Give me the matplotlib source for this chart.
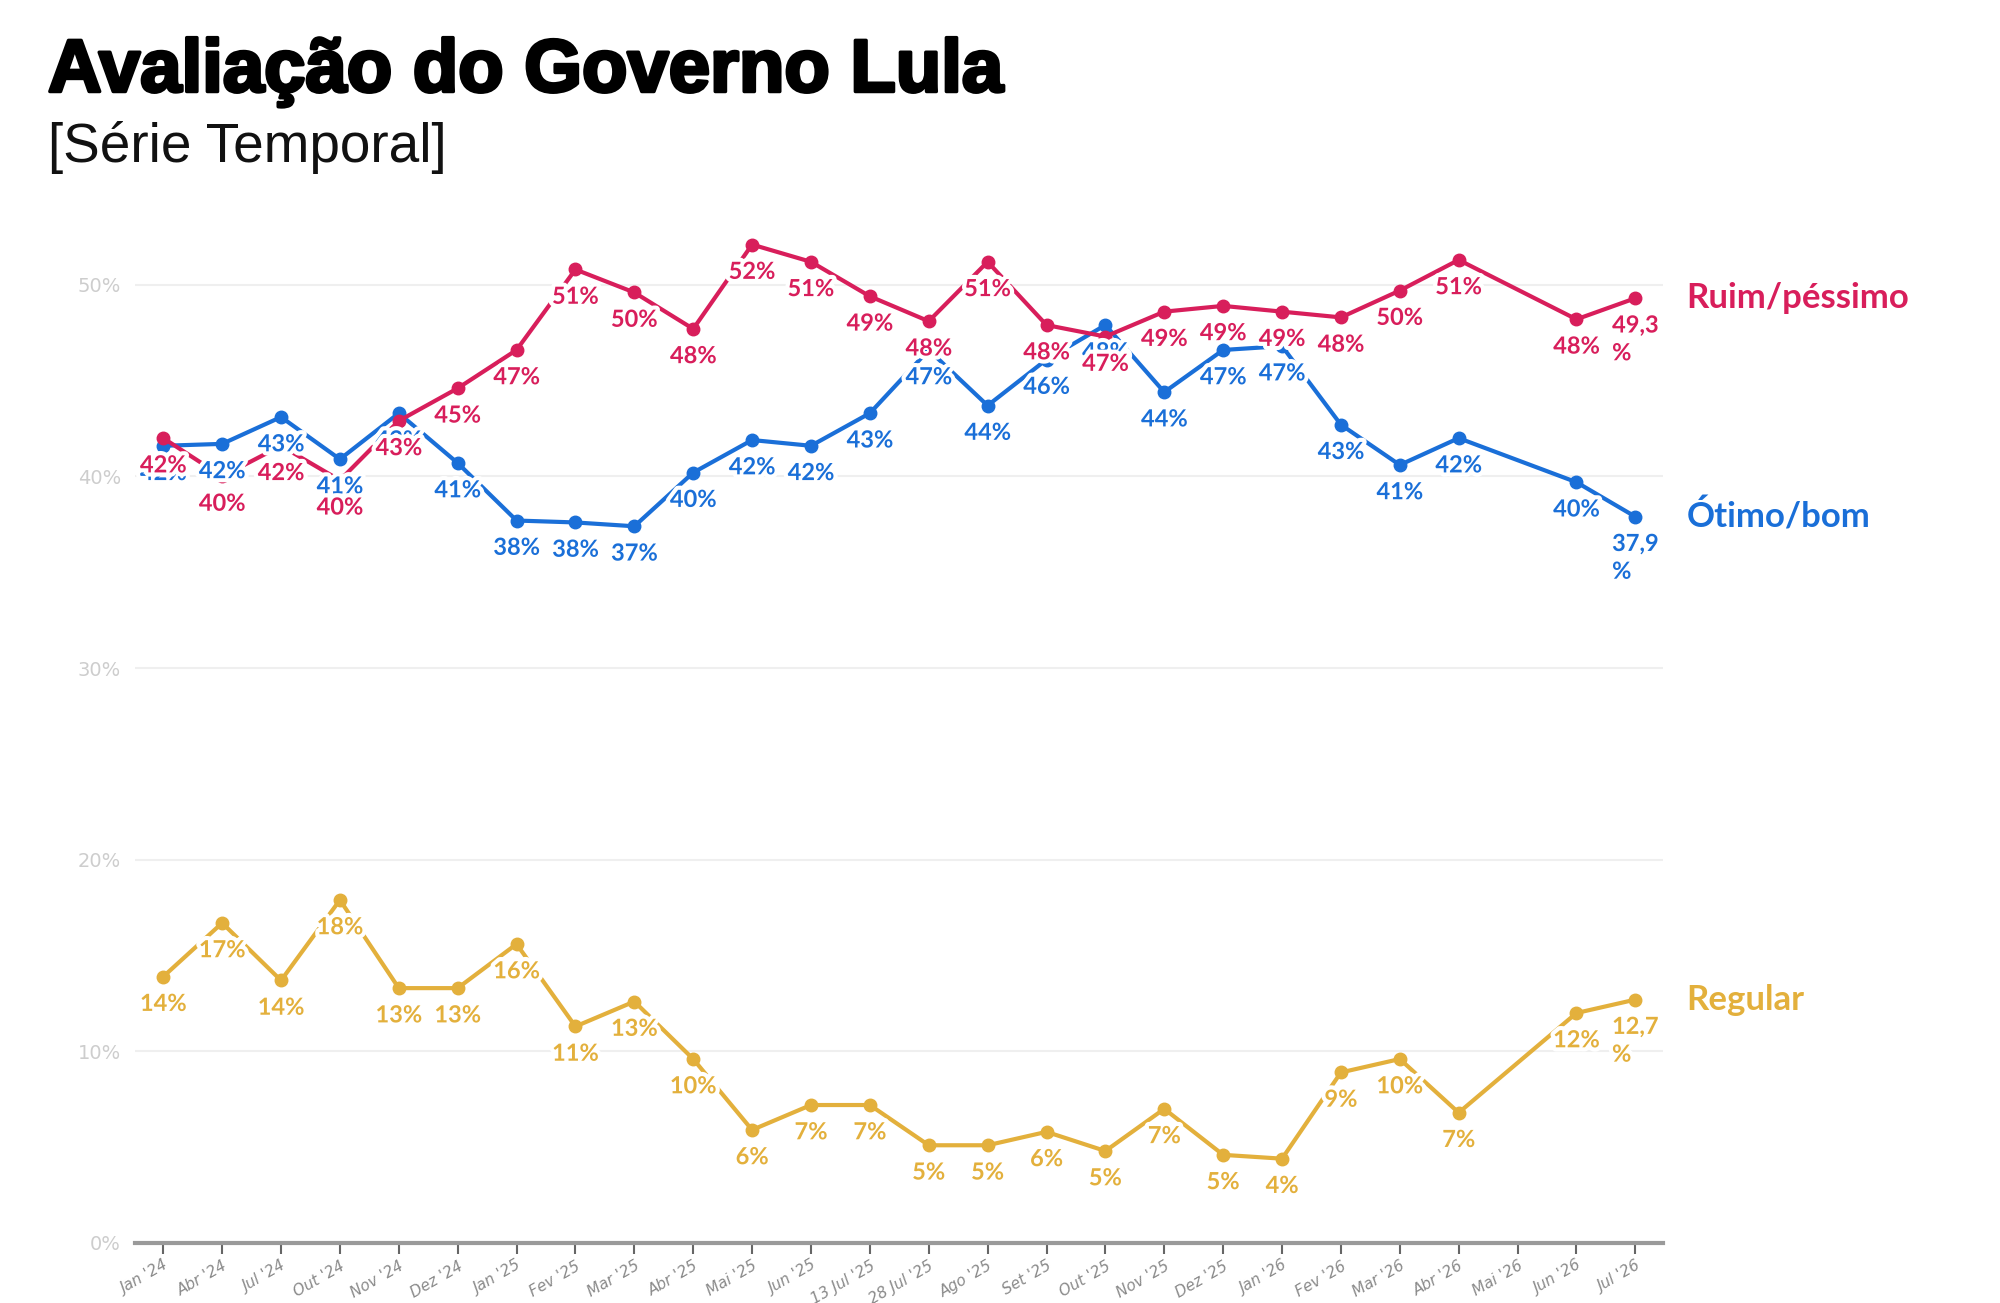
import numpy as np
import matplotlib
matplotlib.use("Agg")
import matplotlib.pyplot as plt
import matplotlib.patheffects as pe

categories = ["Jan '24", "Abr '24", "Jul '24", "Out '24", "Nov '24", "Dez '24",
              "Jan '25", "Fev '25", "Mar '25", "Abr '25", "Mai '25", "Jun '25",
              "13 Jul '25", "28 Jul '25", "Ago '25", "Set '25", "Out '25", "Nov '25",
              "Dez '25", "Jan '26", "Fev '26", "Mar '26", "Abr '26", "Mai '26",
              "Jun '26", "Jul '26"]

ruim_pessimo = [42.0, 40.0, 41.6, 39.8, 42.9, 44.6, 46.6, 50.8, 49.6, 47.7, 52.1, 51.2,
                49.4, 48.1, 51.2, 47.9, 47.3, 48.6, 48.9, 48.6, 48.3, 49.7, 51.3, np.nan,
                48.2, 49.3]
otimo_bom = [41.6, 41.7, 43.1, 40.9, 43.3, 40.7, 37.7, 37.6, 37.4, 40.2, 41.9, 41.6,
             43.3, 46.6, 43.7, 46.1, 47.9, 44.4, 46.6, 46.8, 42.7, 40.6, 42.0, np.nan,
             39.7, 37.9]
regular = [13.9, 16.7, 13.7, 17.9, 13.3, 13.3, 15.6, 11.3, 12.6, 9.6, 5.9, 7.2,
           7.2, 5.1, 5.1, 5.8, 4.8, 7.0, 4.6, 4.4, 8.9, 9.6, 6.8, np.nan,
           12.0, 12.7]

series_names = ["Ruim/péssimo", "Ótimo/bom", "Regular"]
title = "Avaliação do Governo Lula"
subtitle = "[Série Temporal]"
yticks = [0, 10, 20, 30, 40, 50]

colors = {"Ruim/péssimo": "#d81e5b", "Ótimo/bom": "#1a6fd8", "Regular": "#e3b03c"}

W, H = 2000, 1303
fig = plt.figure(figsize=(W / 100, H / 100), dpi=100)
fig.patch.set_facecolor("white")

ax_left, ax_right = 135, 1663
y0_px, ytop_px = 1243, 189
ax = fig.add_axes([ax_left / W, (H - y0_px) / H, (ax_right - ax_left) / W, (y0_px - ytop_px) / H])
ax.set_xlim(-0.48, len(categories) - 1 + 0.47)
ax.set_ylim(0, 55)

for s in ["top", "right", "left"]:
    ax.spines[s].set_visible(False)
ax.spines["bottom"].set_color("#9a9a9a")
ax.spines["bottom"].set_linewidth(3)

ax.set_yticks(yticks)
ax.set_yticklabels([f"{v}%" for v in yticks], color="#cdcdcd", fontsize=14,
                   fontfamily="DejaVu Sans")
ax.tick_params(axis="y", length=0, pad=10)
for v in yticks[1:]:
    ax.axhline(v, color="#efefef", lw=1.5, zorder=0)

x = np.arange(len(categories))
ax.set_xticks(x)
ax.set_xticklabels(categories, rotation=30, ha="right", rotation_mode="anchor",
                   fontsize=11, color="#8a8a8a", fontstyle="italic")
ax.tick_params(axis="x", length=8, width=1.5, color="#666666", pad=3)

# draw order: regular, ótimo/bom, ruim/péssimo (ruim on top)
order = [("Regular", regular), ("Ótimo/bom", otimo_bom), ("Ruim/péssimo", ruim_pessimo)]
for k, (name, vals) in enumerate(order):
    v = np.array(vals, dtype=float)
    m = ~np.isnan(v)
    ax.plot(x[m], v[m], color=colors[name], lw=3, marker="o", ms=9, zorder=3 + k * 0.1,
            clip_on=False)

halo = [pe.withStroke(linewidth=6, foreground="white")]

def fmt(v, last):
    if last:
        return f"{v:.1f}".replace(".", ",") + "\n%"
    return f"{int(round(v))}%"

for k, (name, vals) in enumerate(order):
    n = len(vals)
    for i, v in enumerate(vals):
        if np.isnan(v):
            continue
        last = (i == n - 1)
        ax.annotate(fmt(v, last), (x[i], v), xytext=(0, -11), textcoords="offset points",
                    ha="center", va="top", fontsize=17, fontweight="bold",
                    color=colors[name], fontfamily="Lato", linespacing=1.25,
                    multialignment="left",
                    path_effects=halo, zorder=5 + k * 0.1, annotation_clip=False)

for name, vals in order:
    ax.annotate(name, (x[-1], vals[-1]), xytext=(37, 0), textcoords="offset points",
                ha="left", va="center", fontsize=25, fontweight="bold", color=colors[name],
                fontfamily="Lato", annotation_clip=False)

fig.text(48 / W, 1 - 72 / H, title, fontsize=53.5, fontweight="bold", color="black",
         fontfamily="Liberation Sans", va="center", ha="left",
         path_effects=[pe.withStroke(linewidth=2.5, foreground="black")])
fig.text(48 / W, 1 - 148 / H, subtitle, fontsize=39.5, color="#111111",
         fontfamily="Liberation Sans", va="center", ha="left")

fig.savefig("out.png", dpi=100, facecolor="white")
